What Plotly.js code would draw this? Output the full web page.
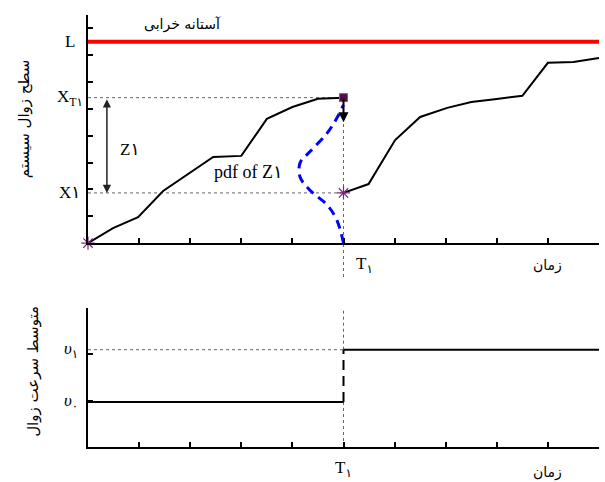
<!DOCTYPE html>
<html>
<head>
<meta charset="utf-8">
<script src="https://cdn.plot.ly/plotly-3.0.1.min.js"></script>
<style>html,body{margin:0;padding:0;background:#fff;}#chart{width:605px;height:482px;}</style>
</head>
<body>
<div id="chart"></div>
<script>
// ---- data ----
const T1 = 5;            // time of first inspection
const L = 7.5;           // failure threshold
const XT1 = 5.42;        // level at T1 (before reset)
const X1 = 1.87;         // level after T1
const timeBefore = [0, 0.49, 0.98, 1.47, 2.45, 3.0, 3.5, 4.0, 4.5, 5.0];
const levelBefore = [0, 0.56, 0.97, 1.94, 3.21, 3.25, 4.63, 5.07, 5.38, 5.42];
const timeAfter = [5.0, 5.49, 6.01, 6.5, 7.03, 7.5, 8.0, 8.5, 9.0, 9.5, 10];
const levelAfter = [1.87, 2.20, 3.84, 4.70, 5.04, 5.26, 5.37, 5.49, 6.72, 6.75, 6.90];
const pdfTime = [5.0, 4.87, 4.68, 4.34, 4.15, 4.15, 4.34, 4.68, 4.87, 5.0];
const pdfLevel = [0, 0.86, 1.42, 1.98, 2.46, 2.99, 3.40, 4.10, 4.66, 5.15];
const timeEnd = 10;
const v0 = 0.97;          // mean rate before T1
const v1 = 2.1;           // mean rate after T1
const xTicks = [0,1,2,3,4,5,6,7,8,9,10];
const yTicksTop = [0,1,2,3,4,5,6,7,8];
const yTicksBottom = [0,1,2,3];
const labelL = 'L', labelXT1 = 'X<sub>T۱</sub>', labelX1 = 'X۱';
const labelT1 = 'T<sub>۱</sub>', labelTime = 'زمان';
const labelV1 = '<i>υ</i><sub>۱</sub>', labelV0 = '<i>υ</i><sub>۰</sub>';
const titleTop = 'سطح زوال سیستم', titleBottom = 'متوسط سرعت زوال';
const thresholdText = 'آستانه خرابی', pdfText = 'pdf of Z۱', zText = 'Z۱';

const serif = 'Liberation Serif, Times New Roman, DejaVu Serif, DejaVu Sans, serif';
const fa = 'DejaVu Sans, Noto Sans, sans-serif';
const dotCol = '#666666';

const traces = [
  // threshold
  {x:[0, timeEnd], y:[L, L], mode:'lines', line:{color:'#ff0000', width:4}, xaxis:'x', yaxis:'y'},
  // dotted guides
  {x:[0, T1], y:[XT1, XT1], mode:'lines', line:{color:dotCol, width:1, dash:'dot'}, xaxis:'x', yaxis:'y'},
  {x:[0, T1], y:[X1, X1], mode:'lines', line:{color:dotCol, width:1, dash:'dot'}, xaxis:'x', yaxis:'y'},
  // pdf
  {x:pdfTime, y:pdfLevel, mode:'lines', line:{color:'#0000ff', width:3, dash:'9px,6px', shape:'spline'}, xaxis:'x', yaxis:'y'},
  // degradation paths
  {x:timeBefore, y:levelBefore, mode:'lines', line:{color:'#000', width:2}, xaxis:'x', yaxis:'y'},
  {x:timeAfter, y:levelAfter, mode:'lines', line:{color:'#000', width:2}, xaxis:'x', yaxis:'y'},
  // markers
  {x:[timeBefore[0], T1], y:[levelBefore[0], X1], mode:'markers', cliponaxis:false,
   marker:{symbol:'asterisk-open', size:11, color:'#7a2a7a', line:{color:'#7a2a7a', width:1.2}}, xaxis:'x', yaxis:'y'},
  {x:[T1], y:[XT1], mode:'markers', cliponaxis:false,
   marker:{symbol:'square', size:8, color:'#4a1248', line:{color:'#9a4a9a', width:1}}, xaxis:'x', yaxis:'y'},
  // bottom: rate
  {x:[0, T1], y:[v1, v1], mode:'lines', line:{color:dotCol, width:1, dash:'dot'}, xaxis:'x2', yaxis:'y2'},
  {x:[T1, T1], y:[0, v0], mode:'lines', line:{color:dotCol, width:1, dash:'dot'}, xaxis:'x2', yaxis:'y2'},
  {x:[T1, T1], y:[v1, 3], mode:'lines', line:{color:dotCol, width:1, dash:'dot'}, xaxis:'x2', yaxis:'y2'},
  {x:[T1, T1], y:[v0, v1], mode:'lines', line:{color:'#000', width:2, dash:'10px,6px'}, xaxis:'x2', yaxis:'y2'},
  {x:[0, T1], y:[v0, v0], mode:'lines', line:{color:'#000', width:2}, xaxis:'x2', yaxis:'y2'},
  {x:[T1, timeEnd], y:[v1, v1], mode:'lines', line:{color:'#000', width:2}, xaxis:'x2', yaxis:'y2'}
];

const axBase = {showgrid:false, zeroline:false, showline:true, linecolor:'#000', linewidth:2,
  ticks:'inside', ticklen:5, tickwidth:2, tickcolor:'#000', showticklabels:false, fixedrange:true};

const lblFont = {family:serif, size:17, color:'#000'};
const faFont = {family:fa, size:14, color:'#000'};
const C = {xanchor:'center', yanchor:'middle', showarrow:false};

const annotations = [
  Object.assign({}, C, {xref:'paper', yref:'y', x:0, y:L, xanchor:'right', xshift:-11, text:labelL, font:lblFont}),
  Object.assign({}, C, {xref:'paper', yref:'y', x:0, y:XT1, xanchor:'right', xshift:-3, text:labelXT1, font:lblFont}),
  Object.assign({}, C, {xref:'paper', yref:'y', x:0, y:X1, xanchor:'right', xshift:-6, text:labelX1, font:lblFont}),
  Object.assign({}, C, {xref:'x', yref:'paper', x:T1, y:0.421, xanchor:'left', xshift:10, text:labelT1, font:lblFont}),
  Object.assign({}, C, {xref:'x', yref:'paper', x:9.0, y:0.421, text:labelTime, font:faFont}),
  Object.assign({}, C, {xref:'x2', yref:'paper', x:T1, y:-0.051, text:labelT1, font:lblFont}),
  Object.assign({}, C, {xref:'x2', yref:'paper', x:9.0, y:-0.058, text:labelTime, font:faFont}),
  Object.assign({}, C, {xref:'paper', yref:'y2', x:0, y:v1, xanchor:'right', xshift:-8, text:labelV1, font:lblFont}),
  Object.assign({}, C, {xref:'paper', yref:'y2', x:0, y:v0, xanchor:'right', xshift:-8, text:labelV0, font:lblFont}),
  Object.assign({}, C, {xref:'paper', yref:'paper', x:-0.125, y:0.759, text:titleTop, textangle:-90, font:{family:fa, size:15, color:'#000'}}),
  Object.assign({}, C, {xref:'paper', yref:'paper', x:-0.108, y:0.176, text:titleBottom, textangle:-90, font:{family:fa, size:15, color:'#000'}}),
  Object.assign({}, C, {xref:'x', yref:'y', x:1.84, y:8.15, text:thresholdText, font:{family:fa, size:14, color:'#000'}}),
  Object.assign({}, C, {xref:'x', yref:'y', x:3.15, y:2.65, text:pdfText, font:{family:serif, size:18, color:'#000'}}),
  Object.assign({}, C, {xref:'x', yref:'y', x:0.82, y:3.47, text:zText, font:lblFont}),
  // arrows
  {xref:'x', yref:'y', axref:'x', ayref:'y', x:0.37, y:X1, ax:0.37, ay:XT1, text:'', showarrow:true,
   arrowside:'end+start', arrowhead:2, startarrowhead:2, arrowsize:1.1, startarrowsize:1.1, arrowwidth:1.5, arrowcolor:'#222', standoff:0, startstandoff:0},
  {xref:'x', yref:'y', axref:'x', ayref:'y', x:T1, y:4.5, ax:T1, ay:XT1, text:'', showarrow:true,
   arrowhead:2, arrowsize:1, arrowwidth:2, arrowcolor:'#000', standoff:0}
];

const shapes = [
  {type:'line', xref:'x', yref:'paper', x0:T1, x1:T1, y0:0.3935, y1:0.81, line:{color:dotCol, width:1, dash:'dot'}, layer:'below'}
];

const layout = {
  width:605, height:482, margin:{l:88, r:6, t:15, b:35},
  paper_bgcolor:'#fff', plot_bgcolor:'#fff', showlegend:false,
  xaxis:Object.assign({}, axBase, {domain:[0,1], range:[0,10], tickvals:xTicks, anchor:'y'}),
  yaxis:Object.assign({}, axBase, {domain:[0.472,1], range:[0,8.5], tickvals:yTicksTop, anchor:'x'}),
  xaxis2:Object.assign({}, axBase, {domain:[0,1], range:[0,10], tickvals:xTicks, anchor:'y2'}),
  yaxis2:Object.assign({}, axBase, {domain:[0,0.3218], range:[0,3], tickvals:yTicksBottom, anchor:'x2'}),
  annotations:annotations, shapes:shapes
};

Plotly.newPlot('chart', traces, layout, {staticPlot:true, displayModeBar:false});
</script>
</body>
</html>
